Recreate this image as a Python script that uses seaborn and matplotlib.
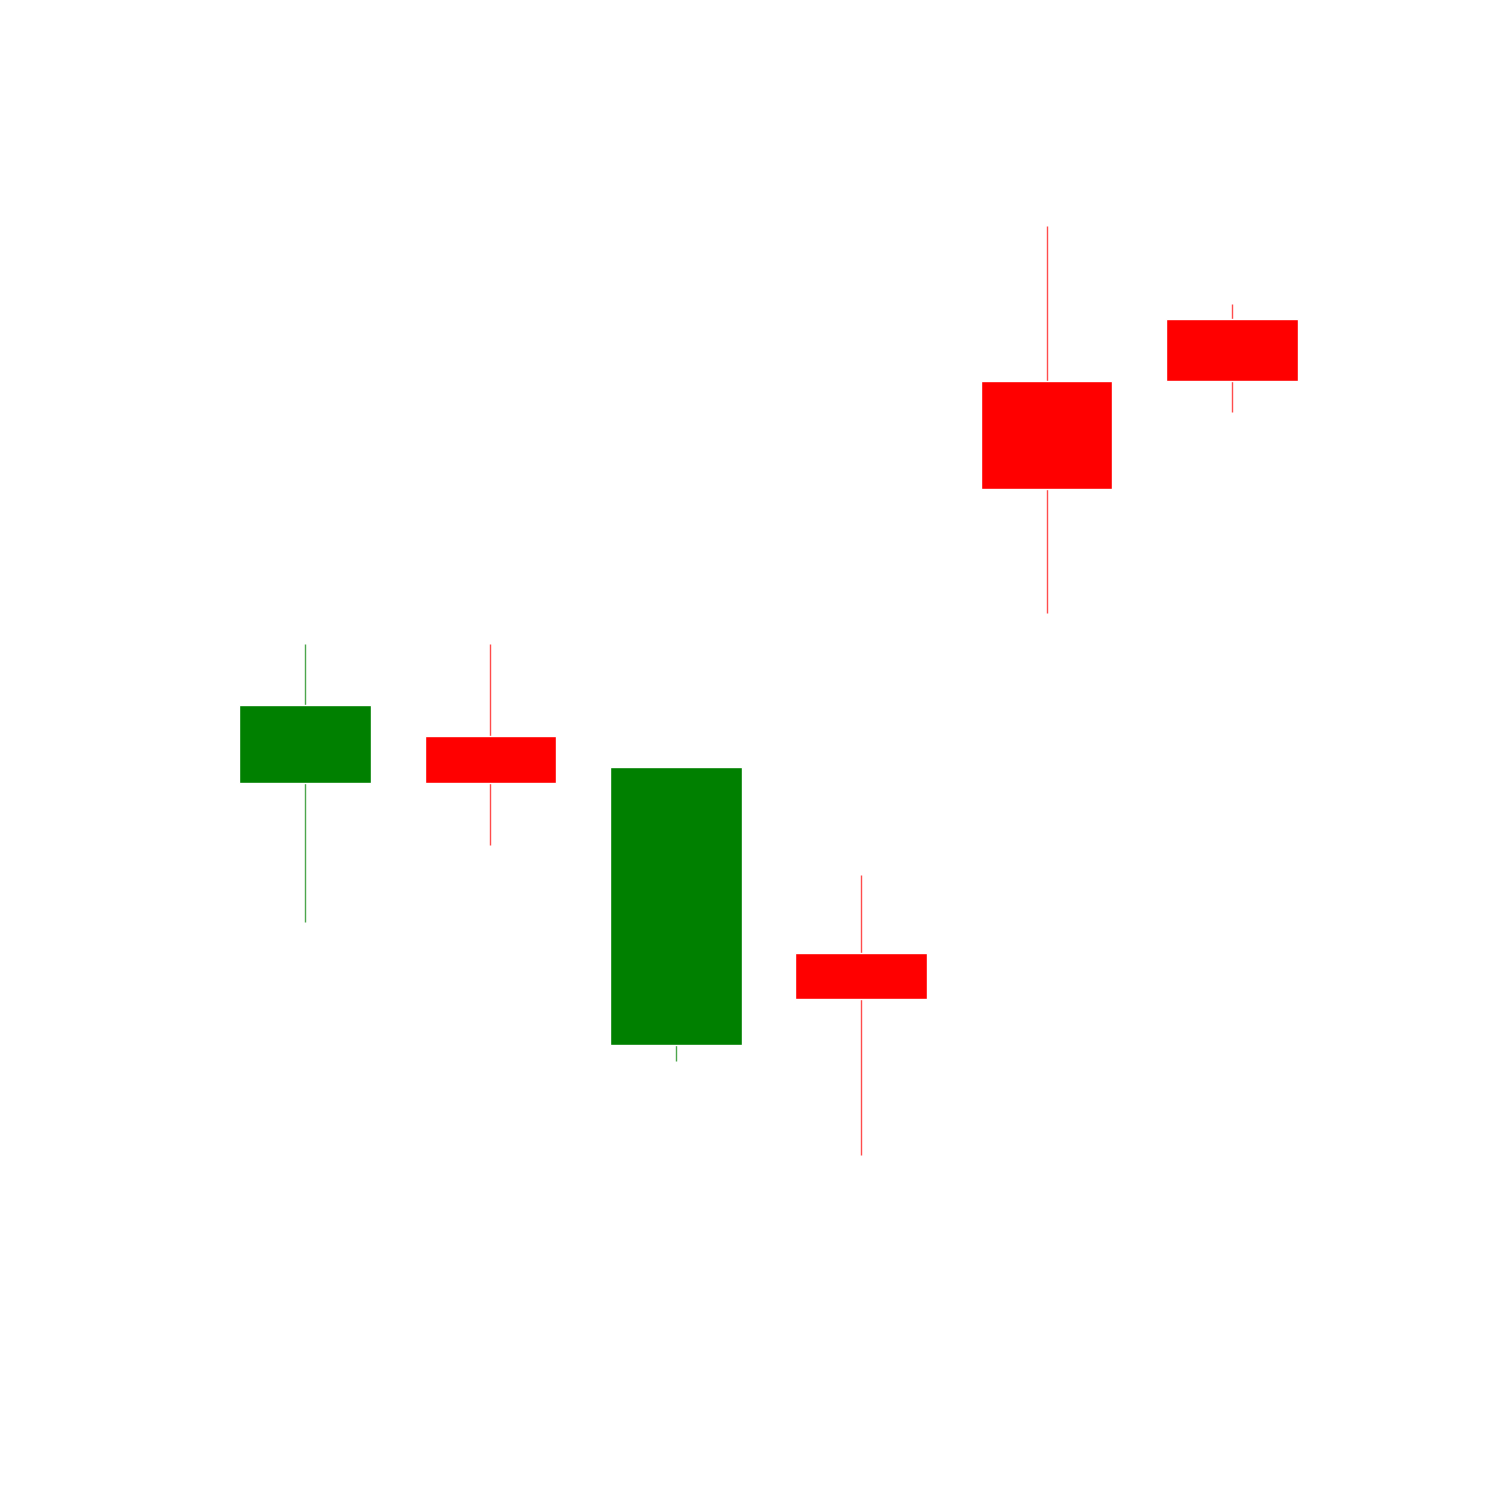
import matplotlib
matplotlib.use("Agg")
import matplotlib.pyplot as plt
import numpy as np
import seaborn as sns
import pandas as pd

# OHLC values for six candles
opens = [71.7, 76.4, 45.5, 54.7, 111.9, 118.1]
highs = [85.6, 85.6, 73.3, 62.5, 127.4, 119.6]
lows = [57.8, 65.5, 43.9, 34.5, 88.7, 108.8]
closes = [79.5, 71.7, 73.3, 50.1, 101.1, 111.9]

df = pd.DataFrame({"open": opens, "high": highs, "low": lows, "close": closes})
df["idx"] = np.arange(len(df))
df["color"] = np.where(df["close"] >= df["open"], "green", "red")

sns.set_style("white")
fig = plt.figure(figsize=(15, 15), dpi=100)
ax = fig.add_axes([0, 0, 1, 1])

# wicks behind, bodies on top
ax.vlines(df["idx"], df["low"], df["high"], colors=df["color"], linewidth=1.0, alpha=0.7, zorder=1)
body_bottom = df[["open", "close"]].min(axis=1)
body_height = (df["close"] - df["open"]).abs()
ax.bar(df["idx"], body_height, bottom=body_bottom, width=0.71, color=df["color"], zorder=2)

ax.set_xlim(-1.645, 6.446)
ax.set_ylim(0, 150)
ax.axis("off")
fig.savefig("out.png", dpi=100, facecolor="white")
